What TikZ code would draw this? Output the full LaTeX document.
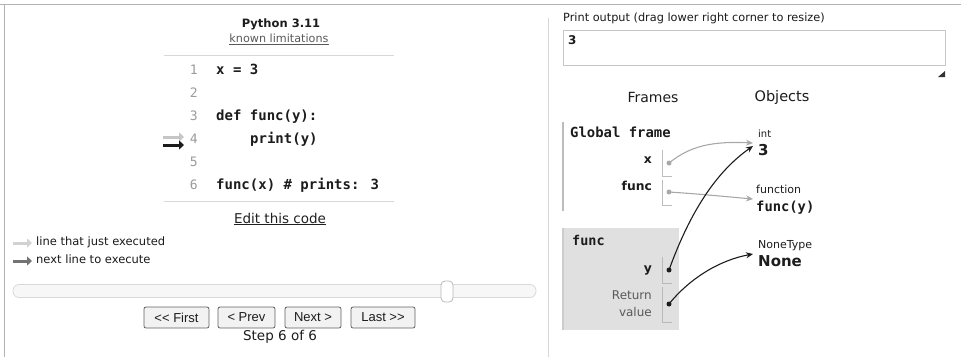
\documentclass[tikz,border=0pt]{standalone}
\usepackage{fontspec}
\setmainfont{DejaVu Sans}
\newfontfamily\codefont{DejaVu Sans Mono}
\newfontfamily\btnfont{Liberation Sans}
\usetikzlibrary{arrows.meta}
\definecolor{txt}{HTML}{1C1C1C}
\definecolor{lnum}{HTML}{9A9A9A}
\definecolor{rule}{HTML}{D8D8D8}
\definecolor{frm}{HTML}{BDBDBD}
\definecolor{heapgray}{HTML}{A8A8A8}
\definecolor{framefill}{HTML}{E0E0E0}
\tikzset{
  lbl/.style={inner sep=0pt, text=txt},
  varlbl/.style={lbl, anchor=mid east, font=\bfseries\fontsize{12.3}{14}\selectfont},
  code/.style={lbl, anchor=mid west, font=\codefont\bfseries\fontsize{14}{16}\selectfont},
  linenum/.style={inner sep=0pt, anchor=mid east, text=lnum, font=\codefont\fontsize{13}{15}\selectfont},
  btn/.style={draw=gray!75!black, fill=gray!10, rounded corners=2pt, line width=0.8pt,
              minimum height=21pt, inner sep=0pt, text=txt, font=\btnfont\fontsize{13}{15}\selectfont},
  bigarrow/.style={line width=3pt, -{Triangle[length=5pt,width=9pt]}},
  bracket/.style={draw=frm, line width=0.9pt},
  ptr/.style={line width=1.1pt, -{Stealth[length=7pt,width=6pt]}},
  dot/.style={circle, inner sep=0pt, minimum size=5pt},
}
\begin{document}
\begin{tikzpicture}[x=1pt,y=-1pt]
\useasboundingbox (0,0) rectangle (961,357);
% outer frame
\draw[gray!60, line width=1pt] (0,4) -- (961,4);
\draw[gray!60, line width=1pt] (4,4) -- (4,357);
\draw[rule, line width=1pt] (548,18) -- (548,357);

% ---------- left panel ----------
\node[lbl, font=\bfseries\fontsize{11.5}{13}\selectfont] (title) at (281,24) {Python 3.11};
\node[lbl, text=gray!70!black, font=\fontsize{11.2}{13}\selectfont] (limits) at (279,39) {\underline{known limitations}};
\coordinate (rt1) at (164,55); \coordinate (rt2) at (394,55);
\draw[rule, line width=1pt] (rt1) -- (rt2);
\coordinate (rb1) at (164,201); \coordinate (rb2) at (394,201);
\draw[rule, line width=1pt] (rb1) -- (rb2);

\node[linenum] (n1) at (198,72) {1};
\node[linenum] (n2) at (198,95) {2};
\node[linenum] (n3) at (198,118) {3};
\node[linenum] (n4) at (198,141) {4};
\node[linenum] (n5) at (198,164) {5};
\node[linenum] (n6) at (198,187) {6};
\node[code] (c1) at (216,72) {x = 3};
\node[code] (c3) at (216,118) {def func(y):};
\node[code] (c4) at (250,141) {print(y)};
\node[code] (c6) at (216,187) {func(x) \# prints: 3};

\coordinate (la1) at (163,137); \coordinate (la2) at (184,137);
\coordinate (da1) at (163,145); \coordinate (da2) at (184,145);
\draw[bigarrow, gray!45] (la1) -- (la2);
\draw[bigarrow, txt] (da1) -- (da2);

\node[lbl, text=gray!25!black, font=\fontsize{13.5}{15}\selectfont] (edit) at (280,219) {\underline{Edit this code}};

\coordinate (lg1a) at (13,243); \coordinate (lg1b) at (32,243);
\coordinate (lg2a) at (13,261); \coordinate (lg2b) at (32,261);
\draw[bigarrow, gray!35] (lg1a) -- (lg1b);
\draw[bigarrow, gray!90!black] (lg2a) -- (lg2b);
\node[lbl, anchor=mid west, text=gray!20!black, font=\fontsize{11.5}{13}\selectfont] (lg1) at (36,243) {line that just executed};
\node[lbl, anchor=mid west, text=gray!20!black, font=\fontsize{11.5}{13}\selectfont] (lg2) at (36,261) {next line to execute};

% slider
\node[draw=gray!30, fill=gray!6, rounded corners=6pt, line width=0.8pt, minimum width=523pt, minimum height=13pt, inner sep=0pt] (slider) at (274.5,291) {};
\node[draw=gray!55, fill=white, rounded corners=4pt, line width=0.8pt, minimum width=12pt, minimum height=21pt, inner sep=0pt] (handle) at (447,291.5) {};

% buttons
\node[btn, minimum width=65pt] (first) at (176.5,317.5) {<{}< First};
\node[btn, minimum width=57pt] (prev) at (246.5,317.5) {< Prev};
\node[btn, minimum width=56pt] (next) at (313,317.5) {Next >};
\node[btn, minimum width=64pt] (last) at (383,317.5) {Last >{}>};
\node[lbl, font=\fontsize{13.5}{15}\selectfont] (step) at (280,337) {Step 6 of 6};

% ---------- right panel ----------
\node[lbl, anchor=mid west, text=gray!20!black, font=\fontsize{11.3}{13}\selectfont] (po) at (563,19) {Print output (drag lower right corner to resize)};
\node[draw=gray!45, line width=0.9pt, minimum width=382pt, minimum height=35pt, inner sep=0pt] (outbox) at (754,47.5) {};
\node[lbl, anchor=mid west, font=\bfseries\fontsize{12}{14}\selectfont] (out3) at (568,42) {3};
\fill[gray!40!black] (945,71) -- (945,77) -- (938,77) -- cycle;

\node[lbl, font=\fontsize{14}{16}\selectfont] (frames) at (653,97) {Frames};
\node[lbl, font=\fontsize{14.5}{16}\selectfont] (objects) at (782,97) {Objects};

% global frame
\draw[frm, line width=1.2pt] (563,122) -- (563,211);
\node[lbl, anchor=mid west, font=\codefont\bfseries\fontsize{13.9}{15}\selectfont] (gf) at (570,135) {Global frame};
\node[varlbl] (vx) at (652,161) {x};
\node[varlbl] (vfunc) at (652,188) {func};
\draw[bracket] (662,150) -- (662,176) -- (672,176);
\draw[bracket] (662,180) -- (662,205) -- (672,205);
\node[dot, fill=heapgray] (dx) at (669,163) {};
\node[dot, fill=heapgray] (dfunc) at (669,192) {};

% func frame
\fill[framefill] (563,228) rectangle (679,330);
\draw[gray!40, line width=1.2pt] (563,228) -- (563,330);
\node[lbl, anchor=mid west, font=\codefont\bfseries\fontsize{13.5}{15}\selectfont] (ff) at (572,243) {func};
\node[varlbl] (vy) at (652,270) {y};
\node[lbl, anchor=mid east, text=gray!70!black, font=\fontsize{12}{14}\selectfont] (vret1) at (652,297) {Return};
\node[lbl, anchor=mid east, text=gray!70!black, font=\fontsize{12}{14}\selectfont] (vret2) at (652,314) {value};
\draw[bracket, draw=gray!55] (662,257) -- (662,283) -- (672,283);
\draw[bracket, draw=gray!55] (662,287) -- (662,322) -- (672,322);
\node[dot, fill=txt] (dy) at (669,270) {};
\node[dot, fill=txt] (dret) at (669,304) {};

% objects
\node[lbl, anchor=mid west, font=\fontsize{10}{12}\selectfont] (tint) at (758,135) {int};
\node[lbl, anchor=mid west, font=\bfseries\fontsize{15}{17}\selectfont] (o3) at (758,153) {3};
\node[lbl, anchor=mid west, font=\fontsize{11}{13}\selectfont] (tfun) at (756,191) {function};
\node[lbl, anchor=mid west, font=\codefont\bfseries\fontsize{13.8}{15}\selectfont] (ofun) at (756,209) {func(y)};
\node[lbl, anchor=mid west, font=\fontsize{11}{13}\selectfont] (tnone) at (758,246) {NoneType};
\node[lbl, anchor=mid west, font=\bfseries\fontsize{15}{17}\selectfont] (onone) at (758,264) {None};

\coordinate (e3a) at (753,143);
\coordinate (e3b) at (753,146);
\coordinate (efun) at (753,199);
\coordinate (enone) at (753,254);
\draw[ptr, heapgray] (dx.center) .. controls (690,146) and (712,141) .. (e3a);
\draw[ptr, heapgray] (dfunc.center) .. controls (700,194) and (730,197) .. (efun);
\draw[ptr, txt] (dy.center) .. controls (690,212) and (716,172) .. (e3b);
\draw[ptr, txt] (dret.center) .. controls (690,278) and (720,260) .. (enone);
\end{tikzpicture}
\end{document}
